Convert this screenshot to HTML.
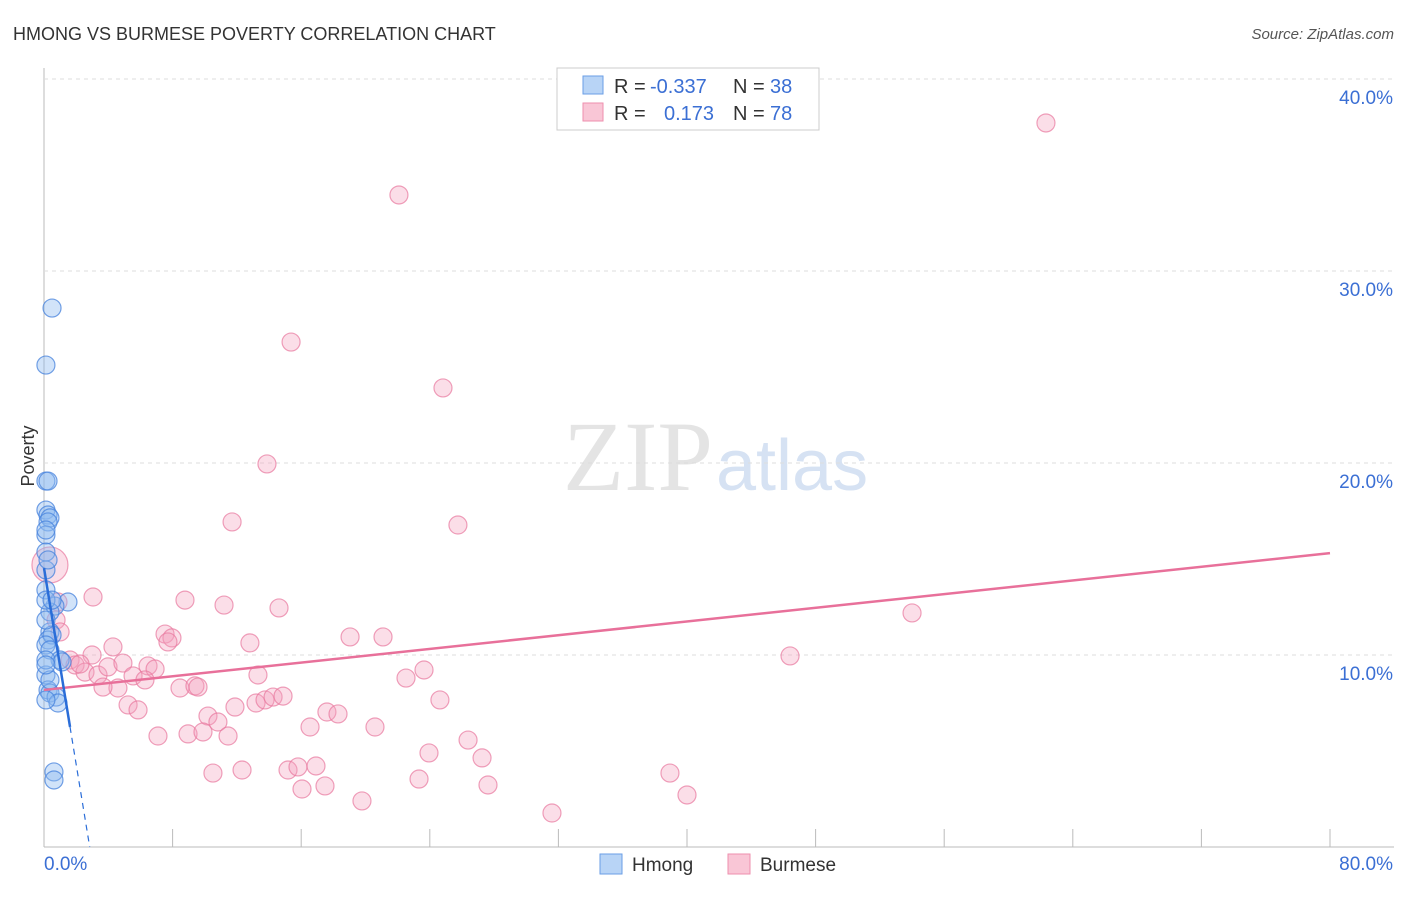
<!DOCTYPE html>
<html><head><meta charset="utf-8"><style>
body{margin:0;background:#fff;font-family:"Liberation Sans",sans-serif}
</style></head><body>
<svg id="c" width="1406" height="892" xmlns="http://www.w3.org/2000/svg">
<text x="13" y="40" font-size="18" fill="#333">HMONG VS BURMESE POVERTY CORRELATION CHART</text>
<text x="1394" y="39" font-size="15" fill="#555" font-style="italic" text-anchor="end">Source: ZipAtlas.com</text>
<text x="713" y="490" font-size="100" fill="#e4e4e4" text-anchor="end" font-family="Liberation Serif">ZIP</text>
<text x="716" y="490" font-size="72" fill="#d6e2f3">atlas</text>
<g id="grid"></g><g id="pts"></g><g id="lines"></g>
<text x="34" y="456" font-size="18" fill="#333" transform="rotate(-90 34 456)" text-anchor="middle">Poverty</text>
<g>
<rect x="557" y="68" width="262" height="62" fill="#fff" stroke="#ccc"/>
<rect x="583" y="76" width="20" height="18" fill="#b8d4f6" stroke="#6a9ee6"/>
<rect x="583" y="103" width="20" height="18" fill="#f9c6d6" stroke="#ee8fae"/>
<text x="614" y="93" font-size="20" fill="#333">R = <tspan x="650" fill="#3b6fd4">-0.337</tspan><tspan x="733">N = </tspan><tspan x="770" fill="#3b6fd4">38</tspan></text>
<text x="614" y="120" font-size="20" fill="#333">R = <tspan x="664" fill="#3b6fd4">0.173</tspan><tspan x="733">N = </tspan><tspan x="770" fill="#3b6fd4">78</tspan></text>
</g>
<g>
<rect x="600" y="854" width="22" height="20" fill="#b8d4f6" stroke="#6a9ee6"/>
<text x="632" y="871" font-size="19" fill="#333">Hmong</text>
<rect x="728" y="854" width="22" height="20" fill="#f9c6d6" stroke="#ee8fae"/>
<text x="760" y="871" font-size="19" fill="#333">Burmese</text>
</g>
</svg>
<script>
const yTicks=[10,20,30,40];
const yTickLabels=["10.0%","20.0%","30.0%","40.0%"];
const hmongX=[0.5,0.12,0.12,0.25,0.12,0.25,0.37,0.25,0.12,0.12,0.12,0.12,1.49,0.68,0.37,0.37,0.25,0.5,0.12,0.37,1.0,1.12,0.12,0.25,0.37,0.75,0.87,0.62,0.62,0.12,0.12,0.12,0.37,0.12,0.5,0.25,0.12,0.12];
const hmongY=[28.07,25.1,19.06,19.06,17.55,17.29,17.14,16.93,16.25,15.36,14.43,13.39,12.76,12.55,12.24,11.2,10.78,11.04,10.52,10.26,9.74,9.64,8.96,8.18,8.02,7.81,7.5,3.91,3.49,12.86,11.82,9.74,8.7,7.66,12.86,14.95,16.51,9.48];
const burmX=[62.33,22.08,15.37,24.82,13.87,11.7,25.75,54.0,46.41,3.05,8.77,11.2,14.62,12.81,19.04,21.09,7.53,7.96,7.71,4.29,0.87,0.75,1.0,0.37,1.62,1.93,2.55,3.36,3.98,4.91,5.54,4.6,3.67,5.23,5.85,6.47,6.91,6.28,8.46,9.39,9.58,13.31,10.2,10.82,11.88,13.19,13.75,14.25,14.87,7.09,8.96,9.89,11.45,10.51,12.32,15.18,15.8,16.92,16.05,17.48,16.55,17.6,18.29,20.59,22.52,23.64,24.63,23.95,23.33,26.38,27.25,27.62,19.78,31.6,38.94,40.0,2.99,2.24];
const burmY=[37.71,33.96,26.3,23.91,19.95,16.93,16.77,12.19,9.95,13.02,12.86,12.6,12.45,10.63,10.94,10.94,11.09,10.89,10.68,10.42,12.76,11.82,11.2,14.69,9.74,9.48,9.11,8.96,9.38,9.58,8.91,8.28,8.33,7.4,7.14,9.43,9.27,8.7,8.28,8.39,8.33,8.96,6.82,6.51,7.29,7.5,7.66,7.81,7.86,5.78,5.89,5.99,5.78,3.85,4.01,4.01,4.17,4.22,3.02,3.18,6.25,7.03,6.93,6.25,8.8,9.22,7.66,4.9,3.54,5.57,4.64,3.23,2.4,1.77,3.85,2.71,10.0,9.53];
const burmR=burmX.map((v,i)=>i===23?18:9);
const hmongTrend=[14.53,-5.11];
const burmTrend=[8.18,0.0891];
const X=v=>44+v*16.075, Y=v=>847-v*19.2;
const NS="http://www.w3.org/2000/svg";
function mk(tag,attrs,parent){const e=document.createElementNS(NS,tag);for(const k in attrs)e.setAttribute(k,attrs[k]);document.getElementById(parent).appendChild(e);return e;}
let a=mk('line',{x1:44,y1:68,x2:44,y2:847,stroke:'#bbb'},'grid');


a=mk('line',{x1:44,y1:847,x2:1394,y2:847,stroke:'#bbb'},'grid');


for(let i=1;i<=10;i++){const t=mk('line',{x1:X(i*8),y1:829,x2:X(i*8),y2:847,stroke:'#bbb'},'grid');

}
yTicks.forEach((v,i)=>{const g=mk('line',{x1:44,y1:Y(v),x2:1394,y2:Y(v),stroke:'#ddd','stroke-dasharray':'4,4'},'grid');


const t=mk('text',{x:1393,y:Y(v)+25,'font-size':19,fill:'#3b6fd4','text-anchor':'end'},'grid');t.textContent=yTickLabels[i];

});
let t=mk('text',{x:44,y:870,'font-size':19,fill:'#3b6fd4'},'grid');t.textContent='0.0%';


t=mk('text',{x:1393,y:870,'font-size':19,fill:'#3b6fd4','text-anchor':'end'},'grid');t.textContent='80.0%';


burmX.forEach((v,i)=>{const c=mk('circle',{cx:X(v),cy:Y(burmY[i]),r:burmR[i],fill:'rgba(244,160,188,0.35)',stroke:'rgba(232,120,158,0.7)','stroke-width':1.2},'pts');

});
hmongX.forEach((v,i)=>{const c=mk('circle',{cx:X(v),cy:Y(hmongY[i]),r:9,fill:'rgba(140,184,240,0.4)',stroke:'rgba(70,130,220,0.75)','stroke-width':1.2},'pts');

});
let l=mk('line',{x1:X(0),y1:Y(burmTrend[0]),x2:X(80),y2:Y(burmTrend[0]+burmTrend[1]*80),stroke:'#e8709a','stroke-width':2.5},'lines');


l=mk('line',{x1:X(0),y1:Y(hmongTrend[0]),x2:X(1.62),y2:Y(hmongTrend[0]+hmongTrend[1]*1.62),stroke:'#2a6dd8','stroke-width':2.5},'lines');


const xe=-hmongTrend[0]/hmongTrend[1];
l=mk('line',{x1:X(1.62),y1:Y(hmongTrend[0]+hmongTrend[1]*1.62),x2:X(xe),y2:Y(0),stroke:'#2a6dd8','stroke-width':1.2,'stroke-dasharray':'6,5'},'lines');


</script>
</body></html>
